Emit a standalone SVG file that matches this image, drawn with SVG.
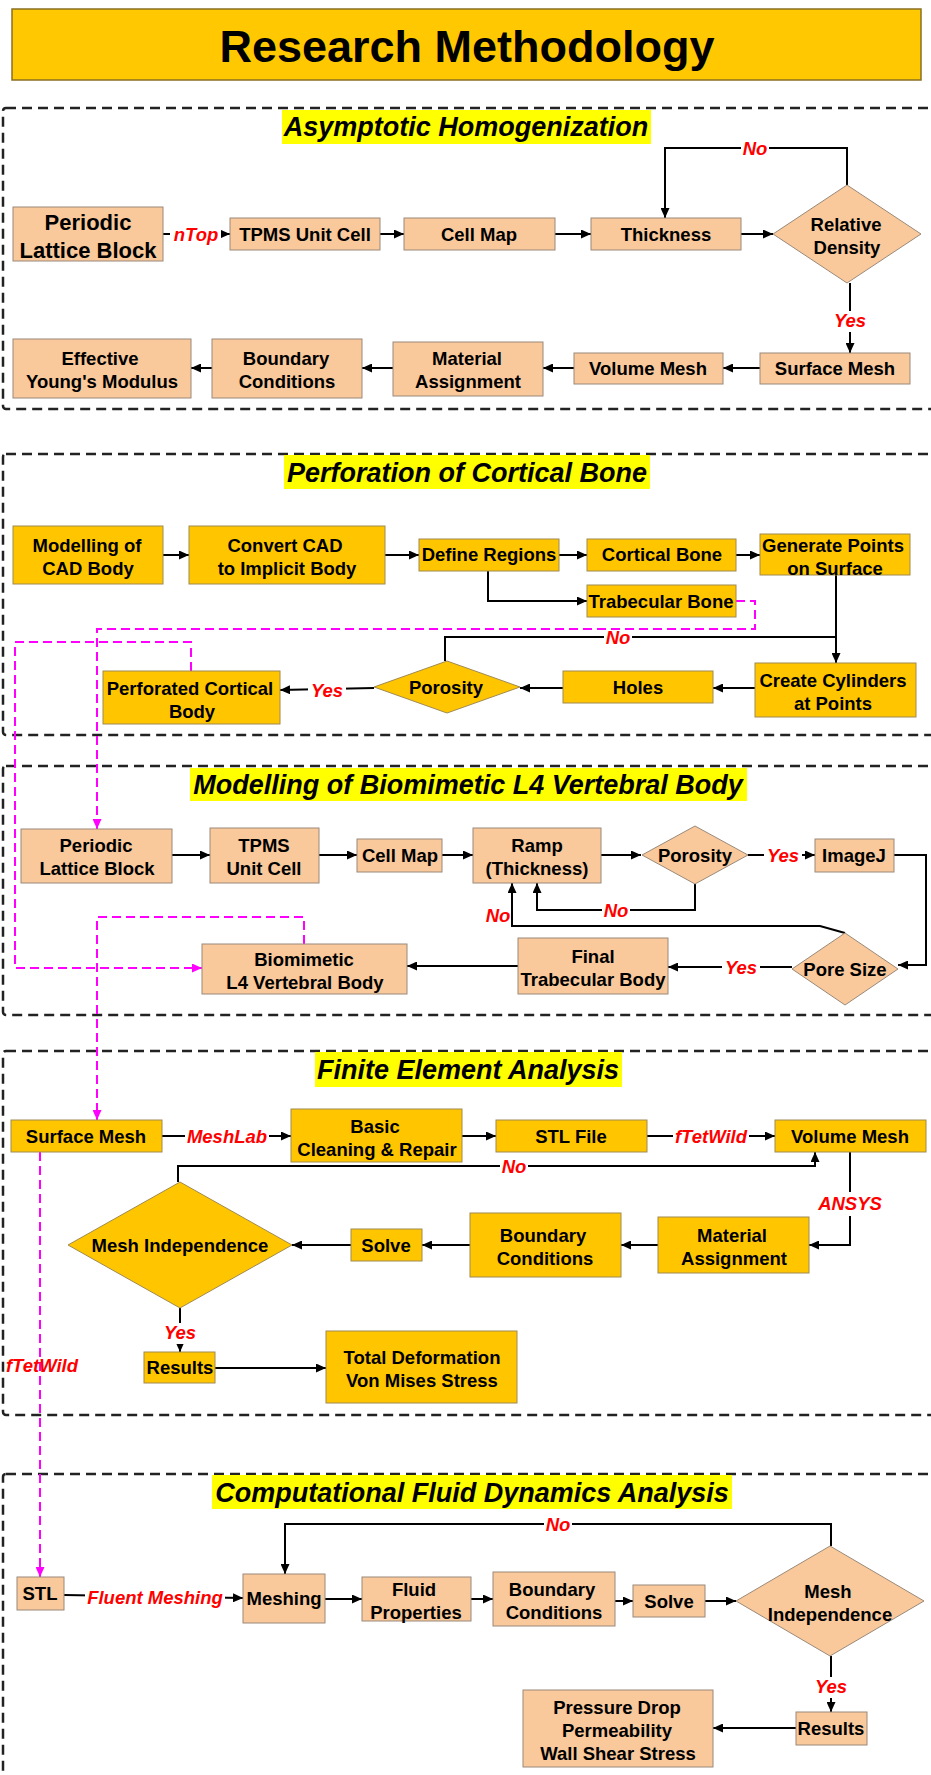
<svg xmlns="http://www.w3.org/2000/svg" width="931" height="1775" viewBox="0 0 931 1775">
<defs>
<marker id="ah" markerUnits="userSpaceOnUse" markerWidth="10" markerHeight="9" refX="10" refY="4.5" orient="auto"><path d="M0,0 L10,4.5 L0,9 z" fill="#000"/></marker>
<marker id="am" markerUnits="userSpaceOnUse" markerWidth="10" markerHeight="9" refX="10" refY="4.5" orient="auto"><path d="M0,0 L10,4.5 L0,9 z" fill="#FF00FF"/></marker>
<style>
text{font-family:"Liberation Sans",Arial,sans-serif;font-weight:bold;text-anchor:middle;fill:#000}
.t{font-size:18.5px}
.big{font-size:22px}
.h{font-size:27px;font-style:italic}
.lbl{font-size:18.5px;font-style:italic;fill:#FF0000}
.bg{fill:#fff}
.pe{fill:#F9C89B;stroke:#9a8a7a;stroke-width:1}
.go{fill:#FFC600;stroke:#a08a50;stroke-width:1}
.sec{fill:none;stroke:#222;stroke-width:2.5;stroke-dasharray:10,6}
.hl{fill:#FFFF00}
.c{fill:none;stroke:#000;stroke-width:2}
.m{fill:none;stroke:#FF00FF;stroke-width:2;stroke-dasharray:9,5}
</style>
</defs>
<rect width="931" height="1775" fill="#fff"/>

<g id="title">
<rect x="12" y="9" width="909" height="71" fill="#FFC800" stroke="#8a7020" stroke-width="1.5"/>
<text x="467" y="62" style="font-size:45px">Research Methodology</text>
</g>

<g id="sections">
<rect class="sec" x="3" y="108" width="960" height="301" rx="3"/>
<rect class="sec" x="3" y="454" width="960" height="281" rx="3"/>
<rect class="sec" x="3" y="766" width="960" height="249" rx="3"/>
<rect class="sec" x="3" y="1051" width="960" height="364" rx="3"/>
<rect class="sec" x="3" y="1474" width="960" height="400" rx="3"/>
<rect class="hl" x="282" y="110" width="369" height="34"/>
<text class="h" x="466" y="136">Asymptotic Homogenization</text>
<rect class="hl" x="284" y="455" width="366" height="34"/>
<text class="h" x="467" y="482">Perforation of Cortical Bone</text>
<rect class="hl" x="190" y="768" width="557" height="33"/>
<text class="h" x="468" y="794">Modelling of Biomimetic L4 Vertebral Body</text>
<rect class="hl" x="315" y="1052" width="307" height="35"/>
<text class="h" x="468" y="1079">Finite Element Analysis</text>
<rect class="hl" x="212" y="1475" width="520" height="34"/>
<text class="h" x="472" y="1502">Computational Fluid Dynamics Analysis</text>
</g>

<g id="connectors">
<!-- section 1 -->
<path class="c" d="M163,234 H230" marker-end="url(#ah)"/>
<path class="c" d="M380,234 H404" marker-end="url(#ah)"/>
<path class="c" d="M555,234 H591" marker-end="url(#ah)"/>
<path class="c" d="M741,234 H773" marker-end="url(#ah)"/>
<path class="c" d="M847,185 V148 H665 V218" marker-end="url(#ah)"/>
<path class="c" d="M850,283 V353" marker-end="url(#ah)"/>
<path class="c" d="M760,368 H723" marker-end="url(#ah)"/>
<path class="c" d="M574,368 H543" marker-end="url(#ah)"/>
<path class="c" d="M393,368 H362" marker-end="url(#ah)"/>
<path class="c" d="M212,368 H191" marker-end="url(#ah)"/>
<rect class="bg" x="170" y="225" width="51" height="21"/><text class="lbl" x="196" y="241">nTop</text>
<rect class="bg" x="741" y="139" width="28" height="21"/><text class="lbl" x="755" y="155">No</text>
<rect class="bg" x="831" y="311" width="38" height="21"/><text class="lbl" x="850" y="327">Yes</text>
<!-- section 2 -->
<path class="c" d="M163,555 H189" marker-end="url(#ah)"/>
<path class="c" d="M385,555 H419" marker-end="url(#ah)"/>
<path class="c" d="M559,555 H587" marker-end="url(#ah)"/>
<path class="c" d="M736,555 H760" marker-end="url(#ah)"/>
<path class="c" d="M488,571 V601 H587" marker-end="url(#ah)"/>
<path class="c" d="M836,575 V663" marker-end="url(#ah)"/>
<path class="c" d="M445,661 V637 H836"/>
<path class="c" d="M755,688 H713" marker-end="url(#ah)"/>
<path class="c" d="M563,688 H520" marker-end="url(#ah)"/>
<path class="c" d="M374,688 L280,690" marker-end="url(#ah)"/>
<rect class="bg" x="604" y="628" width="28" height="21"/><text class="lbl" x="618" y="644">No</text>
<rect class="bg" x="308" y="681" width="38" height="21"/><text class="lbl" x="327" y="697">Yes</text>
<!-- section 3 -->
<path class="c" d="M172,855 H210" marker-end="url(#ah)"/>
<path class="c" d="M319,855 H357" marker-end="url(#ah)"/>
<path class="c" d="M442,855 H473" marker-end="url(#ah)"/>
<path class="c" d="M601,855 H641" marker-end="url(#ah)"/>
<path class="c" d="M748,855 H815" marker-end="url(#ah)"/>
<path class="c" d="M695,884 V910 H537 V883" marker-end="url(#ah)"/>
<path class="c" d="M894,855 H926 V965 H898" marker-end="url(#ah)"/>
<path class="c" d="M845,933 L820,926 H512 V883" marker-end="url(#ah)"/>
<path class="c" d="M792,967 H668" marker-end="url(#ah)"/>
<path class="c" d="M518,966 H407" marker-end="url(#ah)"/>
<rect class="bg" x="764" y="846" width="38" height="21"/><text class="lbl" x="783" y="862">Yes</text>
<rect class="bg" x="602" y="901" width="28" height="21"/><text class="lbl" x="616" y="917">No</text>
<text class="lbl" x="498" y="922">No</text>
<rect class="bg" x="722" y="958" width="38" height="21"/><text class="lbl" x="741" y="974">Yes</text>
<!-- section 4 -->
<path class="c" d="M162,1136 H291" marker-end="url(#ah)"/>
<path class="c" d="M462,1136 H496" marker-end="url(#ah)"/>
<path class="c" d="M647,1136 H775" marker-end="url(#ah)"/>
<path class="c" d="M178,1182 V1166 H815 V1152" marker-end="url(#ah)"/>
<path class="c" d="M850,1152 V1245 H809" marker-end="url(#ah)"/>
<path class="c" d="M658,1245 H621" marker-end="url(#ah)"/>
<path class="c" d="M470,1245 H422" marker-end="url(#ah)"/>
<path class="c" d="M351,1245 H292" marker-end="url(#ah)"/>
<path class="c" d="M180,1308 V1352" marker-end="url(#ah)"/>
<path class="c" d="M215,1368 H326" marker-end="url(#ah)"/>
<rect class="bg" x="185" y="1127" width="84" height="21"/><text class="lbl" x="227" y="1143">MeshLab</text>
<rect class="bg" x="673" y="1127" width="76" height="21"/><text class="lbl" x="711" y="1143">fTetWild</text>
<rect class="bg" x="500" y="1157" width="28" height="21"/><text class="lbl" x="514" y="1173">No</text>
<rect class="bg" x="816" y="1192" width="68" height="24"/><text class="lbl" x="850" y="1210">ANSYS</text>
<rect class="bg" x="161" y="1323" width="38" height="21"/><text class="lbl" x="180" y="1339">Yes</text>
<!-- section 5 -->
<path class="c" d="M64,1595 L243,1598" marker-end="url(#ah)"/>
<path class="c" d="M325,1599 H362" marker-end="url(#ah)"/>
<path class="c" d="M471,1599 H493" marker-end="url(#ah)"/>
<path class="c" d="M615,1601 H633" marker-end="url(#ah)"/>
<path class="c" d="M705,1601 H736" marker-end="url(#ah)"/>
<path class="c" d="M831,1546 V1524 H285 V1574" marker-end="url(#ah)"/>
<path class="c" d="M831,1656 V1712" marker-end="url(#ah)"/>
<path class="c" d="M796,1728 H713" marker-end="url(#ah)"/>
<rect class="bg" x="85" y="1588" width="140" height="21"/><text class="lbl" x="155" y="1604">Fluent Meshing</text>
<rect class="bg" x="544" y="1515" width="28" height="21"/><text class="lbl" x="558" y="1531">No</text>
<rect class="bg" x="812" y="1677" width="38" height="21"/><text class="lbl" x="831" y="1693">Yes</text>
<!-- magenta links -->
<path class="m" d="M736,601 H755 V629 H97 V829" marker-end="url(#am)"/>
<path class="m" d="M191,671 V642 H15 V968 H202" marker-end="url(#am)"/>
<path class="m" d="M304,944 V917 H97 V1120" marker-end="url(#am)"/>
<path class="m" d="M40,1152 V1577" marker-end="url(#am)"/>
<text class="lbl" x="42" y="1372">fTetWild</text>
</g>

<!-- Section 1 nodes -->
<g id="ah_lattice"><rect class="pe" x="13" y="207" width="150" height="54"/><text class="big" x="88" y="230">Periodic</text><text class="big" x="88" y="258">Lattice Block</text></g>
<g id="ah_tpms"><rect class="pe" x="230" y="218" width="150" height="32"/><text class="t" x="305" y="241">TPMS Unit Cell</text></g>
<g id="ah_cellmap"><rect class="pe" x="404" y="218" width="151" height="32"/><text class="t" x="479" y="241">Cell Map</text></g>
<g id="ah_thickness"><rect class="pe" x="591" y="218" width="150" height="32"/><text class="t" x="666" y="241">Thickness</text></g>
<g id="ah_density"><polygon class="pe" points="847,185 921,234 847,283 773,234"/><text class="t" x="846" y="231">Relative</text><text class="t" x="847" y="254">Density</text></g>
<g id="ah_surface"><rect class="pe" x="760" y="353" width="150" height="31"/><text class="t" x="835" y="375">Surface Mesh</text></g>
<g id="ah_volume"><rect class="pe" x="574" y="353" width="149" height="31"/><text class="t" x="648" y="375">Volume Mesh</text></g>
<g id="ah_material"><rect class="pe" x="393" y="342" width="150" height="54"/><text class="t" x="467" y="365">Material</text><text class="t" x="468" y="388">Assignment</text></g>
<g id="ah_boundary"><rect class="pe" x="212" y="339" width="150" height="59"/><text class="t" x="286" y="365">Boundary</text><text class="t" x="287" y="388">Conditions</text></g>
<g id="ah_effective"><rect class="pe" x="13" y="339" width="178" height="59"/><text class="t" x="100" y="365">Effective</text><text class="t" x="102" y="388">Young's Modulus</text></g>

<!-- Section 2 nodes -->
<g id="pc_modelling"><rect class="go" x="13" y="526" width="150" height="58"/><text class="t" x="87" y="552">Modelling of</text><text class="t" x="88" y="575">CAD Body</text></g>
<g id="pc_convert"><rect class="go" x="189" y="526" width="196" height="58"/><text class="t" x="285" y="552">Convert CAD</text><text class="t" x="287" y="575">to Implicit Body</text></g>
<g id="pc_define"><rect class="go" x="419" y="539" width="140" height="32"/><text class="t" x="489" y="561">Define Regions</text></g>
<g id="pc_cortical"><rect class="go" x="587" y="539" width="149" height="32"/><text class="t" x="662" y="561">Cortical Bone</text></g>
<g id="pc_generate"><rect class="go" x="760" y="534" width="150" height="41"/><text class="t" x="833" y="552">Generate Points</text><text class="t" x="835" y="575">on Surface</text></g>
<g id="pc_trabecular"><rect class="go" x="587" y="585" width="149" height="32"/><text class="t" x="661" y="608">Trabecular Bone</text></g>
<g id="pc_cylinders"><rect class="go" x="755" y="663" width="161" height="54"/><text class="t" x="833" y="687">Create Cylinders</text><text class="t" x="833" y="710">at Points</text></g>
<g id="pc_holes"><rect class="go" x="563" y="671" width="150" height="32"/><text class="t" x="638" y="694">Holes</text></g>
<g id="pc_porosity"><polygon class="go" points="447,661 520,687 447,713 374,687"/><text class="t" x="446" y="694">Porosity</text></g>
<g id="pc_perforated"><rect class="go" x="103" y="671" width="177" height="53"/><text class="t" x="190" y="695">Perforated Cortical</text><text class="t" x="192" y="718">Body</text></g>

<!-- Section 3 nodes -->
<g id="bv_lattice"><rect class="pe" x="21" y="829" width="151" height="54"/><text class="t" x="96" y="852">Periodic</text><text class="t" x="97" y="875">Lattice Block</text></g>
<g id="bv_tpms"><rect class="pe" x="210" y="828" width="109" height="55"/><text class="t" x="264" y="852">TPMS</text><text class="t" x="264" y="875">Unit Cell</text></g>
<g id="bv_cellmap"><rect class="pe" x="357" y="839" width="85" height="33"/><text class="t" x="400" y="862">Cell Map</text></g>
<g id="bv_ramp"><rect class="pe" x="473" y="828" width="128" height="55"/><text class="t" x="537" y="852">Ramp</text><text class="t" x="537" y="875">(Thickness)</text></g>
<g id="bv_porosity"><polygon class="pe" points="695,826 748,855 695,884 642,855"/><text class="t" x="695" y="862">Porosity</text></g>
<g id="bv_imagej"><rect class="pe" x="815" y="839" width="79" height="33"/><text class="t" x="854" y="862">ImageJ</text></g>
<g id="bv_pore"><polygon class="pe" points="845,933 898,969 845,1005 792,969"/><text class="t" x="845" y="976">Pore Size</text></g>
<g id="bv_final"><rect class="pe" x="518" y="938" width="150" height="56"/><text class="t" x="593" y="963">Final</text><text class="t" x="593" y="986">Trabecular Body</text></g>
<g id="bv_biomimetic"><rect class="pe" x="202" y="944" width="205" height="50"/><text class="t" x="304" y="966">Biomimetic</text><text class="t" x="305" y="989">L4 Vertebral Body</text></g>

<!-- Section 4 nodes -->
<g id="fe_surface"><rect class="go" x="11" y="1120" width="151" height="32"/><text class="t" x="86" y="1143">Surface Mesh</text></g>
<g id="fe_basic"><rect class="go" x="291" y="1109" width="171" height="53"/><text class="t" x="375" y="1133">Basic</text><text class="t" x="377" y="1156">Cleaning &amp; Repair</text></g>
<g id="fe_stl"><rect class="go" x="496" y="1120" width="151" height="32"/><text class="t" x="571" y="1143">STL File</text></g>
<g id="fe_volume"><rect class="go" x="775" y="1120" width="151" height="32"/><text class="t" x="850" y="1143">Volume Mesh</text></g>
<g id="fe_material"><rect class="go" x="658" y="1217" width="151" height="56"/><text class="t" x="732" y="1242">Material</text><text class="t" x="734" y="1265">Assignment</text></g>
<g id="fe_boundary"><rect class="go" x="470" y="1213" width="151" height="64"/><text class="t" x="543" y="1242">Boundary</text><text class="t" x="545" y="1265">Conditions</text></g>
<g id="fe_solve"><rect class="go" x="351" y="1229" width="71" height="32"/><text class="t" x="386" y="1252">Solve</text></g>
<g id="fe_meshind"><polygon class="go" points="180,1182 292,1245 180,1308 68,1245"/><text class="t" x="180" y="1252">Mesh Independence</text></g>
<g id="fe_results"><rect class="go" x="144" y="1352" width="71" height="31"/><text class="t" x="180" y="1374">Results</text></g>
<g id="fe_total"><rect class="go" x="326" y="1331" width="191" height="72"/><text class="t" x="422" y="1364">Total Deformation</text><text class="t" x="422" y="1387">Von Mises Stress</text></g>

<!-- Section 5 nodes -->
<g id="cfd_stl"><rect class="pe" x="17" y="1577" width="47" height="33"/><text class="t" x="40" y="1600">STL</text></g>
<g id="cfd_meshing"><rect class="pe" x="243" y="1574" width="82" height="49"/><text class="t" x="284" y="1605">Meshing</text></g>
<g id="cfd_fluid"><rect class="pe" x="362" y="1577" width="109" height="44"/><text class="t" x="414" y="1596">Fluid</text><text class="t" x="416" y="1619">Properties</text></g>
<g id="cfd_boundary"><rect class="pe" x="493" y="1572" width="122" height="54"/><text class="t" x="552" y="1596">Boundary</text><text class="t" x="554" y="1619">Conditions</text></g>
<g id="cfd_solve"><rect class="pe" x="633" y="1585" width="72" height="32"/><text class="t" x="669" y="1608">Solve</text></g>
<g id="cfd_meshind"><polygon class="pe" points="830,1546 924,1601 830,1656 736,1601"/><text class="t" x="828" y="1598">Mesh</text><text class="t" x="830" y="1621">Independence</text></g>
<g id="cfd_results"><rect class="pe" x="796" y="1712" width="71" height="33"/><text class="t" x="831" y="1735">Results</text></g>
<g id="cfd_pressure"><rect class="pe" x="523" y="1690" width="190" height="77"/><text class="t" x="617" y="1714">Pressure Drop</text><text class="t" x="617" y="1737">Permeability</text><text class="t" x="618" y="1760">Wall Shear Stress</text></g>
</svg>
